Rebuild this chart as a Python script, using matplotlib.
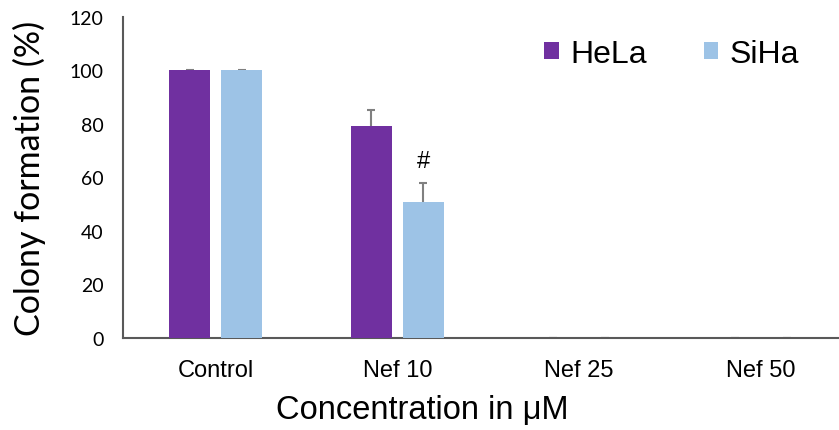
import numpy as np
import matplotlib
matplotlib.use('Agg')
import matplotlib.pyplot as plt

plt.rcParams['font.family'] = ['Liberation Sans', 'DejaVu Sans']

categories = ['Control', 'Nef 10', 'Nef 25', 'Nef 50']
hela = [100, 79.4, 0, 0]
hela_err = [0.3, 5.8, 0, 0]
siha = [100, 51.0, 0, 0]
siha_err = [0.3, 7.0, 0, 0]

fig = plt.figure(figsize=(8.39, 4.31), dpi=100)
ax = fig.add_axes([0.1466, 0.2135, 0.853, 0.745])

x = np.arange(len(categories))
w = 0.225
off = 0.143
# error bars sit behind the bars, so only the upper half shows
ekw = dict(ecolor='#808080', elinewidth=1.5, capsize=3, capthick=1.5, zorder=1)
ax.bar(x - off, hela, w, color='#7030A0', label='HeLa', zorder=3)
ax.bar(x + off, siha, w, color='#9DC3E6', label='SiHa', zorder=3)
ax.errorbar(x - off, hela, yerr=hela_err, fmt='none', **ekw)
ax.errorbar(x + off, siha, yerr=siha_err, fmt='none', **ekw)

ax.text(x[1] + off, siha[1] + siha_err[1] + 4, '#', ha='center', va='bottom', fontsize=17)

ax.set_xlim(-0.51, 3.43)
ax.set_ylim(0, 120)
ax.set_yticks(range(0, 121, 20))
ax.set_xticks(x)
ax.set_xticklabels(categories, fontsize=17)
for lab in ax.get_yticklabels():
    lab.set_family('Lato')
    lab.set_fontsize(14)
ax.tick_params(axis='both', length=0)
ax.tick_params(axis='y', pad=14)
ax.tick_params(axis='x', pad=15)
for s in ['top', 'right']:
    ax.spines[s].set_visible(False)
for s in ['left', 'bottom']:
    ax.spines[s].set_color('#595959')
    ax.spines[s].set_linewidth(1.5)

ax.set_xlabel('Concentration in μM', fontsize=23.5)
ax.xaxis.set_label_coords(0.418, -0.175)
ax.set_ylabel('Colony formation (%)', fontsize=24.5, family='Lato', labelpad=17)

ax.legend(loc='upper right', bbox_to_anchor=(0.985, 1.02), ncol=2, frameon=False,
          fontsize=23, handlelength=0.45, handleheight=0.45, handletextpad=0.35,
          columnspacing=1.8)

fig.savefig('out.png', dpi=100)
